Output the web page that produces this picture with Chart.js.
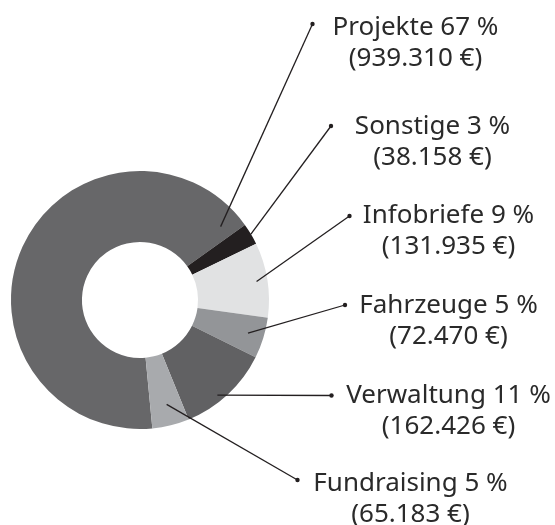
<!DOCTYPE html>
<html>
<head>
<meta charset="utf-8">
<script src="https://cdn.jsdelivr.net/npm/chart.js@4/dist/chart.umd.min.js"></script>
<style>
  html, body { margin: 0; padding: 0; background: #fff; }
  #wrap { position: relative; width: 555px; height: 525px; }
</style>
</head>
<body>
<div id="wrap"><canvas id="donut"></canvas></div>
<script>
var labels = ['Projekte', 'Sonstige', 'Infobriefe', 'Fahrzeuge', 'Verwaltung', 'Fundraising'];
var amounts = [939310, 38158, 131935, 72470, 162426, 65183];
var percents = [67, 3, 9, 5, 11, 5];
var colors = ['#676769', '#231f20', '#e1e2e3', '#939598', '#616163', '#a8aaad'];

// where each label sits: dot, text centre, first baseline
var callouts = [
    { dot: [312.5, 24],    cx: 415.5, by: 35,    f: 0.972, r: 0.845 },
    { dot: [331, 126],     cx: 432.5, by: 133.5, f: 0.5,   r: 1.0 },
    { dot: [349.5, 216],   cx: 448.5, by: 223,   f: 0.5,   r: 0.915 },
    { dot: [345, 305],     cx: 448.5, by: 312.5, f: 0.5,   r: 0.876 },
    { dot: [331.5, 395.5], cx: 448.5, by: 402.5, f: 0.59,  r: 0.95 },
    { dot: [297.5, 480],   cx: 410.5, by: 490.5, f: 0.47,  r: 0.835 }
];

function euro(v) {
    return String(v).replace(/\B(?=(\d{3})+(?!\d))/g, '.') + ' €';
}

var calloutPlugin = {
    id: 'callouts',
    afterDraw: function (chart) {
        var ctx = chart.ctx;
        var meta = chart.getDatasetMeta(0);
        ctx.save();
        ctx.strokeStyle = '#231f20';
        ctx.lineWidth = 1.3;
        meta.data.forEach(function (arc, i) {
            var c = callouts[i];
            var a = arc.startAngle + c.f * (arc.endAngle - arc.startAngle);
            var x0 = arc.x + c.r * arc.outerRadius * Math.cos(a);
            var y0 = arc.y + c.r * arc.outerRadius * Math.sin(a);
            ctx.beginPath();
            ctx.moveTo(x0, y0);
            ctx.lineTo(c.dot[0], c.dot[1]);
            ctx.stroke();
            ctx.fillStyle = '#231f20';
            ctx.beginPath();
            ctx.arc(c.dot[0], c.dot[1], 2.2, 0, Math.PI * 2);
            ctx.fill();

            ctx.fillStyle = '#2a2a2a';
            ctx.font = '26px "Noto Sans"';
            ctx.textAlign = 'center';
            ctx.textBaseline = 'alphabetic';
            ctx.fillText(labels[i] + ' ' + percents[i] + ' %', c.cx, c.by);
            ctx.fillText('(' + euro(amounts[i]) + ')', c.cx, c.by + 31);
        });
        ctx.restore();
    }
};

new Chart(document.getElementById('donut'), {
    type: 'doughnut',
    data: {
        labels: labels,
        datasets: [{
            data: amounts,
            backgroundColor: colors,
            borderWidth: 0
        }]
    },
    options: {
        responsive: true,
        maintainAspectRatio: false,
        animation: false,
        rotation: 174.5,
        cutout: '45%',
        layout: { padding: { left: 11, right: 286, top: 171, bottom: 96 } },
        plugins: {
            legend: { display: false },
            tooltip: { enabled: false }
        }
    },
    plugins: [calloutPlugin]
});
</script>
</body>
</html>
